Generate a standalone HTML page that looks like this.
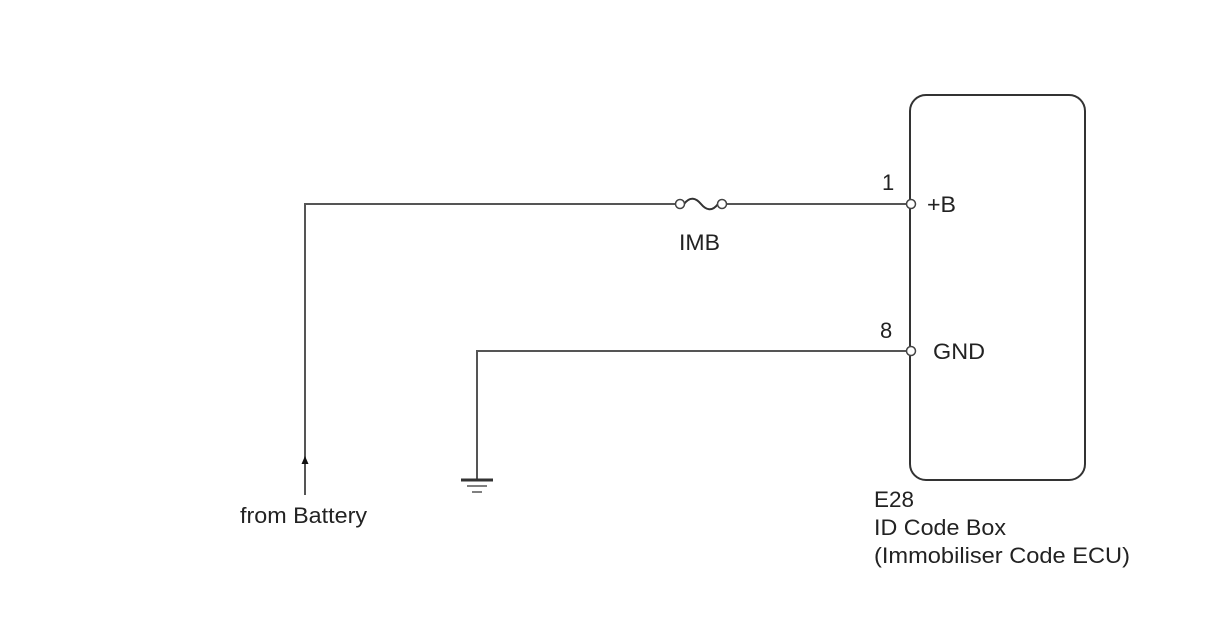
<!DOCTYPE html>
<html><head><style>
html,body{margin:0;padding:0;background:#fff;}
svg{display:block;}
text{font-family:"Liberation Sans",Arial,sans-serif;font-size:22px;fill:#222;}
</style></head><body>
<svg width="1208" height="644" viewBox="0 0 1208 644">
<rect x="910" y="95" width="175" height="385" rx="16" ry="16" fill="none" stroke="#333" stroke-width="2"/>
<g stroke="#555" stroke-width="2" fill="none">
<polyline points="305,495 305,204 676,204"/>
<line x1="726" y1="204" x2="906" y2="204"/>
<polyline points="477,480 477,351 906,351"/>
</g>
<path d="M684,204 C690,196 696,198 701,204 C706,210 712,212 718,204" stroke="#333" stroke-width="2" fill="none"/>
<circle cx="680" cy="204" r="4.5" fill="#fff" stroke="#444" stroke-width="1.5"/>
<circle cx="722" cy="204" r="4.5" fill="#fff" stroke="#444" stroke-width="1.5"/>
<circle cx="911" cy="204" r="4.5" fill="#fff" stroke="#444" stroke-width="1.5"/>
<circle cx="911" cy="351" r="4.5" fill="#fff" stroke="#444" stroke-width="1.5"/>
<polygon points="305,456 301.5,464 308.5,464" fill="#111"/>
<line x1="461" y1="480" x2="493" y2="480" stroke="#333" stroke-width="3"/>
<line x1="467" y1="486" x2="487" y2="486" stroke="#555" stroke-width="1.5"/>
<line x1="472" y1="492" x2="482" y2="492" stroke="#555" stroke-width="1.5"/>
<text x="679" y="250" textLength="41" lengthAdjust="spacingAndGlyphs">IMB</text>
<text x="882" y="190">1</text>
<text x="927" y="212" textLength="29" lengthAdjust="spacingAndGlyphs">+B</text>
<text x="880" y="338">8</text>
<text x="933" y="359" textLength="52" lengthAdjust="spacingAndGlyphs">GND</text>
<text x="240" y="523" textLength="127" lengthAdjust="spacingAndGlyphs">from Battery</text>
<text x="874" y="507" textLength="40" lengthAdjust="spacingAndGlyphs">E28</text>
<text x="874" y="535" textLength="132" lengthAdjust="spacingAndGlyphs">ID Code Box</text>
<text x="874" y="563" textLength="256" lengthAdjust="spacingAndGlyphs">(Immobiliser Code ECU)</text>
</svg>
</body></html>
